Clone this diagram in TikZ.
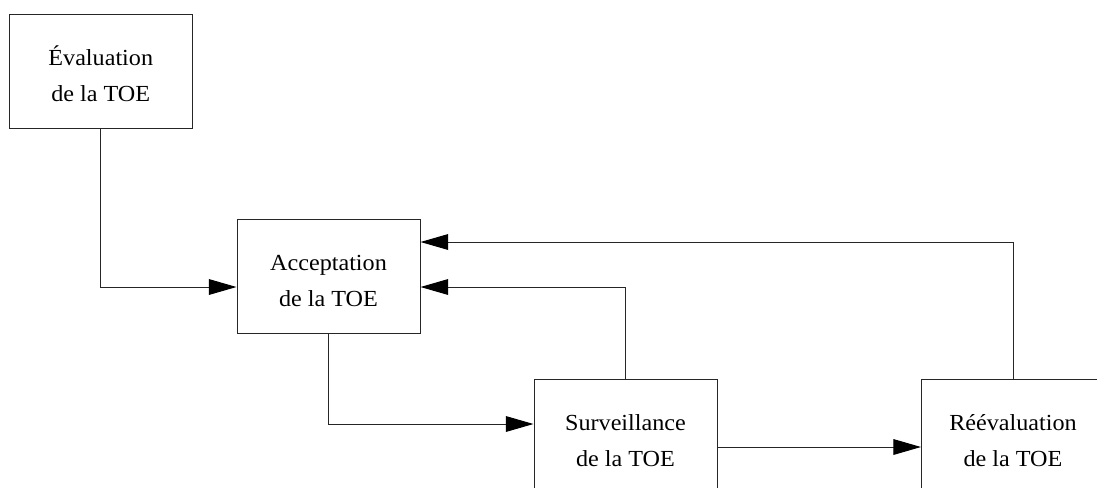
\documentclass[tikz,border=0pt]{standalone}
\usepackage{fontspec}
\setmainfont{Liberation Serif}[FakeStretch=1.05]
\usetikzlibrary{arrows.meta,calc}

% two-line stage label, with a strut that fixes the height of the first line
\newcommand{\stagetext}[2]{\rule{0pt}{19.5pt}#1\\#2}

\tikzset{
  stage/.style={draw=black!85, line width=0.75pt, rectangle, inner sep=0pt,
    minimum width=137.25pt, minimum height=85.5pt, align=center,
    font=\fontsize{17.25pt}{27pt}\selectfont},
  flow/.style={draw=black!85, line width=0.75pt,
    -{Triangle[length=20.8pt, width=11.8pt, color=black]}},
}

\begin{document}
\begin{tikzpicture}[x=0.75pt, y=-0.75pt]
  \useasboundingbox (0,0) rectangle (1097,487);

  % the four stages of the TOE life cycle
  \node[stage] (eval) at (100.75,71)  {\stagetext{Évaluation}{de la TOE}};
  \node[stage] (acc)  at (328.5,276)  {\stagetext{Acceptation}{de la TOE}};
  \node[stage] (surv) at (625.5,436)  {\stagetext{Surveillance}{de la TOE}};
  \node[stage] (reev) at (1013,436)   {\stagetext{Réévaluation}{de la TOE}};

  % connectors
  \draw[flow] (eval.south) |- ($(acc.west)+(0,11)$);
  \draw[flow] (acc.south) |- ($(surv.west)+(0,-12)$);
  \draw[flow] (surv.north) |- ($(acc.east)+(0,11)$);
  \draw[flow] (reev.north) |- ($(acc.east)+(0,-34)$);
  \draw[flow] ($(surv.east)+(0,11)$) -- ($(reev.west)+(0,11)$);
\end{tikzpicture}
\end{document}
